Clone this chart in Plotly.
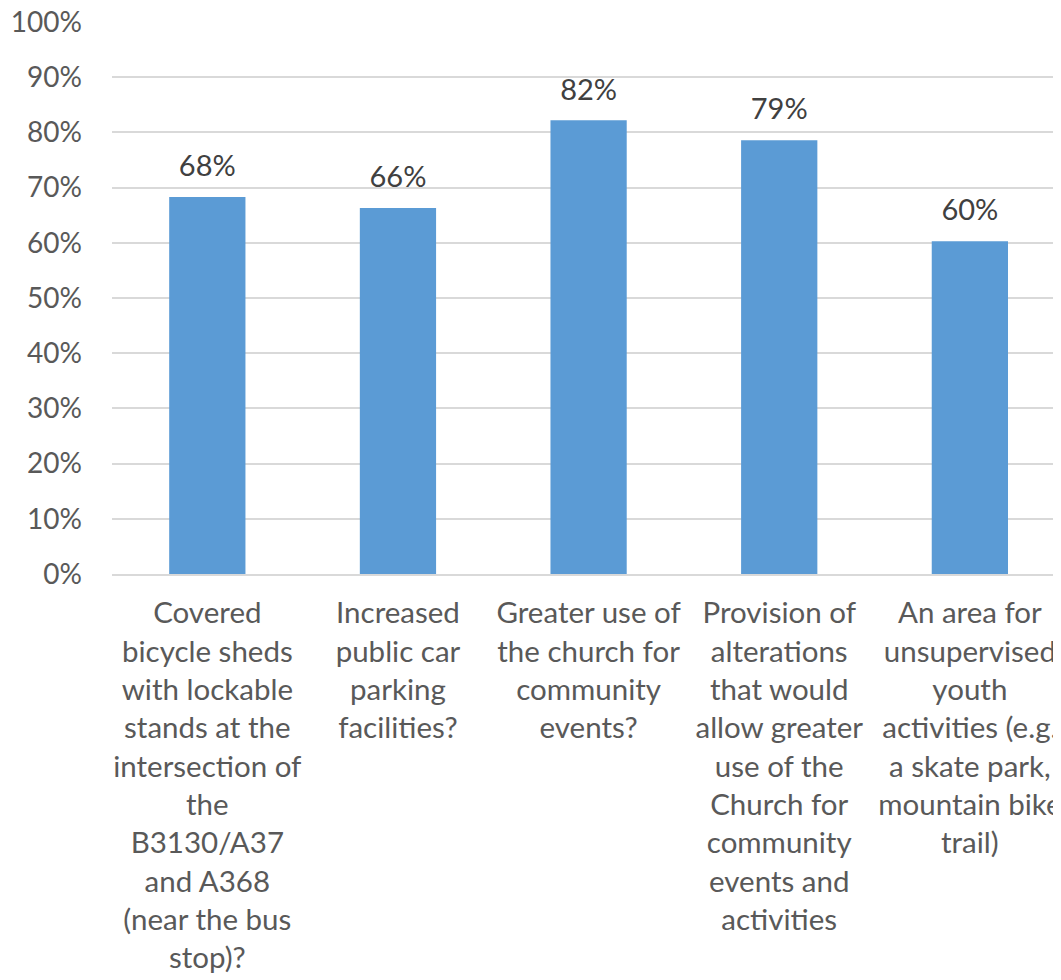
import plotly.graph_objects as go

categories = [
    "Covered<br>bicycle sheds<br>with lockable<br>stands at the<br>intersection of<br>the<br>B3130/A37<br>and A368<br>(near the bus<br>stop)?",
    "Increased<br>public car<br>parking<br>facilities?",
    "Greater use of<br>the church for<br>community<br>events?",
    "Provision of<br>alterations<br>that would<br>allow greater<br>use of the<br>Church for<br>community<br>events and<br>activities",
    "An area for<br>unsupervised<br>youth<br>activities (e.g.<br>a skate park,<br>mountain bike<br>trail)",
]
values = [0.683, 0.663, 0.822, 0.786, 0.603]
y_ticks = [0, 0.1, 0.2, 0.3, 0.4, 0.5, 0.6, 0.7, 0.8, 0.9, 1.0]

FONT = "Lato"
xpos = list(range(len(categories)))

fig = go.Figure()
fig.add_trace(go.Bar(
    x=xpos, y=values,
    marker=dict(color="#5B9BD5", line=dict(width=0)),
    width=0.4,
    hoverinfo="skip",
))
fig.add_trace(go.Scatter(
    x=xpos, y=values,
    mode="markers+text",
    marker=dict(size=20, color="rgba(0,0,0,0)"),
    text=[f"{round(v*100)}%" for v in values],
    textposition="top center",
    textfont=dict(family=FONT, size=29, color="#404040"),
    hoverinfo="skip",
    cliponaxis=False,
))

fig.update_layout(
    width=1061, height=980,
    margin=dict(l=104, r=0, t=14, b=414, autoexpand=False),
    paper_bgcolor="white", plot_bgcolor="white",
    showlegend=False,
    font=dict(family=FONT, size=29, color="#595959"),
)
fig.update_xaxes(
    range=[-0.5, 4.52],
    tickmode="array", tickvals=xpos, ticktext=categories,
    tickangle=0, automargin=False,
    showgrid=False, zeroline=False,
    showline=True, linecolor="#D9D9D9", linewidth=1.5,
    ticks="", ticklabelstandoff=12,
    tickfont=dict(family=FONT, size=29.5, color="#595959"),
)
fig.update_yaxes(
    range=[0, 1.0],
    tickmode="array", tickvals=y_ticks, tickformat=".0%",
    automargin=False,
    showgrid=True, gridcolor="#D9D9D9", gridwidth=1.5,
    zeroline=False, showline=False, ticks="",
    ticklabelstandoff=29,
    ticklabeloverflow="allow",
    tickfont=dict(family=FONT, size=28, color="#595959"),
)

fig.write_html("out.html")
